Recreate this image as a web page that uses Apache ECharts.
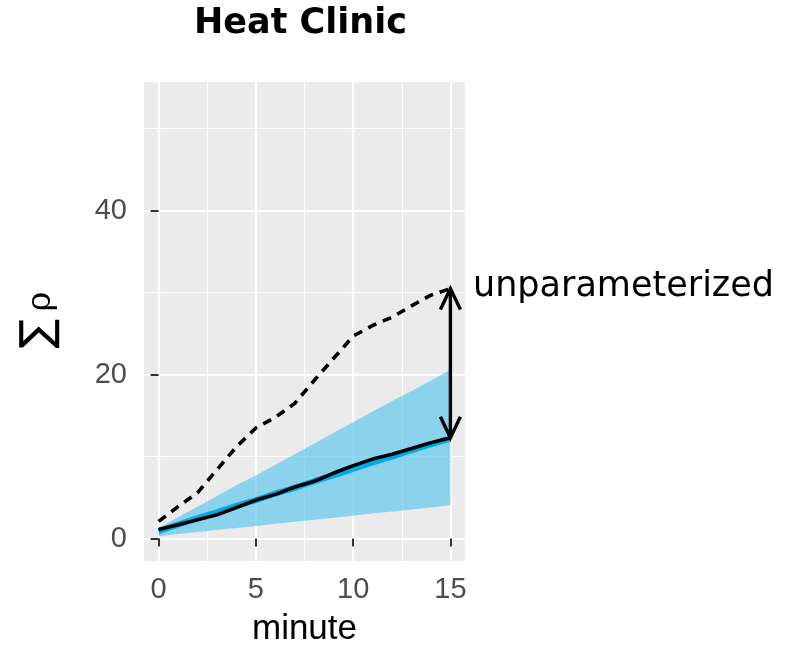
<!DOCTYPE html>
<html><head><meta charset="utf-8">
<script src="https://cdn.jsdelivr.net/npm/echarts@6/dist/echarts.min.js"></script>
<style>html,body{margin:0;padding:0;background:#fff}#c{width:792px;height:647px}</style>
</head><body><div id="c"></div>
<script>
// ---- data ----
const minutes        = [0, 1, 2, 3, 4, 5, 6, 7, 8, 9, 10, 11, 12, 13, 14, 15];
const unparamValues  = [2.1, 3.9, 5.6, 8.4, 11.2, 13.5, 14.8, 16.5, 19.3, 22.0, 24.7, 26.0, 27.0, 28.4, 29.7, 30.5];
const modelValues    = [1.1, 1.7, 2.3, 2.9, 3.8, 4.7, 5.4, 6.3, 7.0, 8.0, 8.9, 9.7, 10.3, 11.0, 11.7, 12.3];
const meanValues     = [0.9, 1.7, 2.5, 3.2, 4.0, 4.7, 5.5, 6.2, 7.0, 7.7, 8.5, 9.3, 10.0, 10.8, 11.5, 12.2];
const bandLower      = [0.3, 0.55, 0.8, 1.05, 1.3, 1.55, 1.8, 2.05, 2.3, 2.55, 2.8, 3.05, 3.3, 3.55, 3.8, 4.1];
const bandUpper      = [1.3, 2.6, 3.9, 5.2, 6.5, 7.7, 9.0, 10.3, 11.6, 12.9, 14.2, 15.5, 16.8, 18.0, 19.3, 20.6];
const xTicks         = [0, 5, 10, 15];
const yTicks         = [0, 20, 40];
const xMinorTicks    = [2.5, 7.5, 12.5];
const yMinorTicks    = [10, 30, 50];
const titleText      = 'Heat Clinic';
const xTitle         = 'minute';
const annotationText = 'unparameterized';

// ---- chart ----
const chart = echarts.init(document.getElementById('c'), null, {renderer: 'canvas'});
const last = minutes.length - 1;
const tickLabelStyle = {color: '#4D4D4D', fontSize: 29, fontFamily: 'Liberation Sans'};

const option = {
  animation: false,
  backgroundColor: '#fff',
  grid: {left: 144, top: 82, width: 321, height: 479, show: true, backgroundColor: '#EBEBEB', borderWidth: 0,
         containLabel: false, outerBoundsMode: 'none'},
  xAxis: [
    {
      type: 'value', min: -0.75, max: 15.75,
      axisLine: {show: false},
      axisTick: {show: true, customValues: xTicks, length: 8, lineStyle: {color: '#333', width: 2}},
      axisLabel: {show: true, customValues: xTicks, margin: 14, ...tickLabelStyle},
      splitLine: {show: true, lineStyle: {color: '#fff', width: 2.2}},
      name: xTitle, nameLocation: 'middle', nameGap: 51,
      nameTextStyle: {fontSize: 35, color: '#000', fontFamily: 'Liberation Sans'}
    },
    {
      type: 'value', min: -0.75, max: 15.75, gridIndex: 0,
      axisLine: {show: false},
      axisTick: {show: false, customValues: xMinorTicks},
      axisLabel: {show: false, customValues: xMinorTicks},
      splitLine: {show: true, lineStyle: {color: '#fff', width: 1.1}}
    }
  ],
  yAxis: [
    {
      type: 'value', min: -2.73, max: 55.7,
      axisLine: {show: false},
      axisTick: {show: true, customValues: yTicks, length: 8, lineStyle: {color: '#333', width: 2}},
      axisLabel: {show: true, customValues: yTicks, margin: 17, ...tickLabelStyle},
      splitLine: {show: true, lineStyle: {color: '#fff', width: 2.2}}
    },
    {
      type: 'value', min: -2.73, max: 55.7, gridIndex: 0,
      axisLine: {show: false},
      axisTick: {show: false, customValues: yMinorTicks},
      axisLabel: {show: false, customValues: yMinorTicks},
      splitLine: {show: true, lineStyle: {color: '#fff', width: 1.1}}
    }
  ],
  series: [
    {
      type: 'custom', name: 'band', silent: true, z: 2,
      xAxisIndex: 0, yAxisIndex: 0,
      data: minutes.map((m, i) => [m, bandLower[i], bandUpper[i]]),
      encode: {x: 0, y: [1, 2]},
      renderItem: function (params, api) {
        if (params.dataIndex !== 0) return null;
        const pts = [];
        for (let i = 0; i < minutes.length; i++) pts.push(api.coord([minutes[i], bandUpper[i]]));
        for (let i = minutes.length - 1; i >= 0; i--) pts.push(api.coord([minutes[i], bandLower[i]]));
        return {type: 'polygon', shape: {points: pts}, style: {fill: 'rgba(98,199,238,0.7)', stroke: null}};
      }
    },
    {
      type: 'line', name: 'mean', z: 3, showSymbol: false, symbol: 'none', silent: true,
      data: minutes.map((m, i) => [m, meanValues[i]]),
      lineStyle: {color: '#00A9E8', width: 6}
    },
    {
      type: 'line', name: 'model', z: 4, showSymbol: false, symbol: 'none', silent: true,
      data: minutes.map((m, i) => [m, modelValues[i]]),
      lineStyle: {color: '#000', width: 3.6}
    },
    {
      type: 'line', name: 'unparameterized', z: 4, showSymbol: false, symbol: 'none', silent: true,
      data: minutes.map((m, i) => [m, unparamValues[i]]),
      lineStyle: {color: '#000', width: 3.6, type: [9, 7]}
    },
    {
      type: 'custom', name: 'arrow', z: 5, silent: true, clip: false,
      xAxisIndex: 0, yAxisIndex: 0,
      data: [[minutes[last], unparamValues[last], modelValues[last]]],
      encode: {x: 0, y: [1, 2]},
      renderItem: function (params, api) {
        const top = api.coord([api.value(0), api.value(1)]);
        const bot = api.coord([api.value(0), api.value(2)]);
        const st = {stroke: '#000', lineWidth: 3.4, fill: null, lineJoin: 'miter'};
        return {type: 'group', children: [
          {type: 'line', shape: {x1: top[0], y1: top[1] + 1, x2: bot[0], y2: bot[1] - 1}, style: st},
          {type: 'polyline', shape: {points: [[top[0] - 10, top[1] + 21], [top[0], top[1]], [top[0] + 10, top[1] + 21]]}, style: st},
          {type: 'polyline', shape: {points: [[bot[0] - 10, bot[1] - 21], [bot[0], bot[1]], [bot[0] + 10, bot[1] - 21]]}, style: st}
        ]};
      }
    }
  ],
  graphic: [
    {type: 'text', x: 300.5, y: 24, style: {text: titleText, fontSize: 35, fontWeight: 'bold', fontFamily: 'DejaVu Sans', fill: '#000', textAlign: 'center', textVerticalAlign: 'middle'}},
    {type: 'text', x: 473, y: 287, style: {text: annotationText, fontSize: 35, fontFamily: 'DejaVu Sans', fill: '#000', textAlign: 'left', textVerticalAlign: 'middle'}},
    {type: 'text', x: 40, y: 334, rotation: Math.PI / 2,
      style: {text: '∑', fontSize: 44, fontFamily: 'DejaVu Sans', fill: '#000', textAlign: 'center', textVerticalAlign: 'middle'}},
    {type: 'text', x: 41, y: 301.5, rotation: Math.PI / 2,
      style: {text: 'ρ', fontSize: 34, fontFamily: 'DejaVu Serif', fill: '#000', textAlign: 'center', textVerticalAlign: 'middle'}}
  ]
};
chart.setOption(option);
</script>
</body></html>
